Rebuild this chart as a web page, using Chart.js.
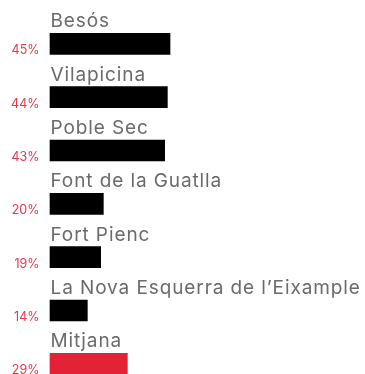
<!DOCTYPE html>
<html>
<head>
<meta charset="utf-8">
<script src="https://cdn.jsdelivr.net/npm/chart.js@4/dist/chart.umd.min.js"></script>
<style>
  html, body { margin: 0; padding: 0; background: #fff; overflow: hidden; }
  #wrap { width: 365px; height: 374px; }
</style>
</head>
<body>
<div id="wrap"><canvas id="chart" width="365" height="374"></canvas></div>
<script>
// Neighbourhoods and their shares (percent)
const categories = ['Besós', 'Vilapicina', 'Poble Sec', 'Font de la Guatlla', 'Fort Pienc', 'La Nova Esquerra de l’Eixample', 'Mitjana'];
const values = [45, 44, 43, 20, 19, 14, 29];
const valueLabels = ['45%', '44%', '43%', '20%', '19%', '14%', '29%'];

const BAR_BLACK = '#000000';
const BAR_RED = '#e42236';
const NAME_GREY = '#6b6b6b';
const PCT_RED = '#e8384c';

// The average row is highlighted in red
const barColors = categories.map((c, i) => i === categories.length - 1 ? BAR_RED : BAR_BLACK);

// Names above each bar, percentages to the left of it
const rowLabels = {
  id: 'rowLabels',
  afterDatasetsDraw(chart) {
    const ctx = chart.ctx;
    const meta = chart.getDatasetMeta(0);
    const left = chart.chartArea.left;
    ctx.save();
    meta.data.forEach((bar, i) => {
      const top = bar.y - bar.height / 2;
      const bottom = bar.y + bar.height / 2;
      ctx.font = '400 19px Inter';
      ctx.letterSpacing = '0.9px';
      ctx.fillStyle = NAME_GREY;
      ctx.textAlign = 'left';
      ctx.textBaseline = 'alphabetic';
      ctx.fillText(categories[i], left + 0.5, top - 6);

      ctx.font = '400 12.5px Inter';
      ctx.letterSpacing = '0px';
      ctx.fillStyle = PCT_RED;
      ctx.textAlign = 'right';
      ctx.fillText(valueLabels[i], left - 10.5, bottom);
    });
    ctx.restore();
  }
};

new Chart(document.getElementById('chart'), {
  type: 'bar',
  data: {
    labels: categories,
    datasets: [{
      data: values,
      backgroundColor: barColors,
      borderWidth: 0,
      barThickness: 21,
      clip: false
    }]
  },
  options: {
    indexAxis: 'y',
    responsive: false,
    animation: false,
    events: [],
    layout: { padding: { left: 50, right: 48.3, top: 43.8, bottom: 10.2 } },
    plugins: { legend: { display: false }, tooltip: { enabled: false } },
    scales: {
      x: { display: false, min: 0, max: 100 },
      y: { display: false, offset: false, grid: { display: false } }
    }
  },
  plugins: [rowLabels]
});
</script>
</body>
</html>
